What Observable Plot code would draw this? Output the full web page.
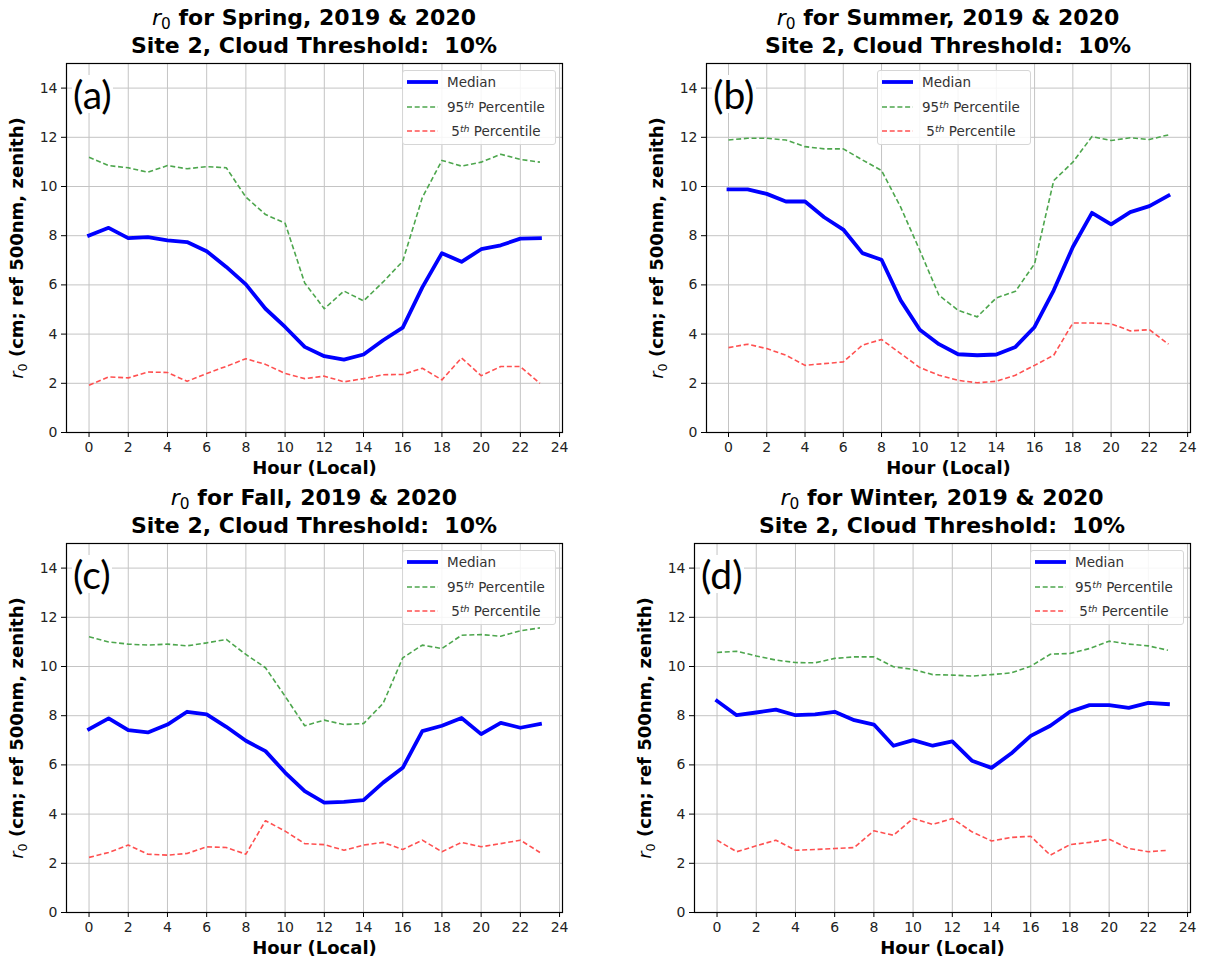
<!DOCTYPE html>
<html>
<head>
<meta charset="utf-8">
<script src="https://cdn.jsdelivr.net/npm/d3@7"></script>
<script src="https://cdn.jsdelivr.net/npm/@observablehq/plot@0.6"></script>
<style>
  html, body { margin: 0; padding: 0; background: #fff; }
  #root { position: relative; width: 1219px; height: 962px; background: #fff; overflow: hidden; font-family: "DejaVu Sans", sans-serif; }
  .panel { position: absolute; }
  .title { position: absolute; width: 600px; text-align: center; font: bold 22px "DejaVu Sans"; line-height: 28px; color: #000; white-space: pre; z-index: 3; }
  .title .m { font-weight: normal; }
  .title sub { font-size: 70%; vertical-align: -0.25em; line-height: 0; }
  .letter { position: absolute; font-family: Lato, "Open Sans", sans-serif; font-size: 39px; line-height: 38px; background: #fff; color: #000; z-index: 3; padding: 0 1px; }
  .legend { position: absolute; width: 152px; height: 73px; background: rgba(255,255,255,0.85); border: 1px solid #d6d6d6; border-radius: 3px; z-index: 4; font: 13.5px "DejaVu Sans"; color: #333; }
  .legend .row { position: absolute; left: 0; height: 18px; width: 152px; }
  .legend svg { position: absolute; left: 3px; top: 0; }
  .legend .lab { position: absolute; left: 44px; top: 0; line-height: 18px; white-space: pre; }
  .legend sup { font-style: italic; font-size: 70%; line-height: 0; vertical-align: 0.45em; }
</style>
</head>
<body>
<div id="root"></div>
<script>
// ---------- data ----------
const hours = [0,1,2,3,4,5,6,7,8,9,10,11,12,13,14,15,16,17,18,19,20,21,22,23];
const xTicks = [0,2,4,6,8,10,12,14,16,18,20,22,24];
const yTicks = [0,2,4,6,8,10,12,14];

const seasons = ["Spring", "Summer", "Fall", "Winter"];
const panelLetters = ["(a)", "(b)", "(c)", "(d)"];
const subtitle = "Site 2, Cloud Threshold:  10%";
const seriesNames = ["Median", "95th Percentile", "5th Percentile"];

const springMedian = [8.01, 8.32, 7.90, 7.94, 7.81, 7.74, 7.37, 6.73, 6.02, 5.03, 4.29, 3.48, 3.10, 2.96, 3.17, 3.75, 4.26, 5.90, 7.29, 6.94, 7.45, 7.61, 7.88, 7.90];
const spring95 = [11.19, 10.85, 10.76, 10.58, 10.85, 10.72, 10.81, 10.76, 9.57, 8.86, 8.51, 6.08, 5.03, 5.75, 5.35, 6.12, 6.96, 9.55, 11.06, 10.83, 10.99, 11.31, 11.10, 10.99];
const spring5 = [1.92, 2.26, 2.22, 2.46, 2.44, 2.08, 2.40, 2.69, 3.00, 2.77, 2.40, 2.19, 2.29, 2.06, 2.19, 2.35, 2.36, 2.61, 2.14, 3.03, 2.31, 2.68, 2.68, 2.00];

const summerMedian = [9.88, 9.88, 9.70, 9.39, 9.39, 8.75, 8.25, 7.29, 7.02, 5.37, 4.18, 3.59, 3.18, 3.14, 3.17, 3.48, 4.29, 5.78, 7.54, 8.93, 8.46, 8.96, 9.20, 9.63];
const summer95 = [11.89, 11.96, 11.96, 11.89, 11.62, 11.53, 11.53, 11.08, 10.65, 9.16, 7.40, 5.58, 4.97, 4.70, 5.47, 5.74, 6.86, 10.24, 10.99, 12.03, 11.87, 11.98, 11.91, 12.10];
const summer5 = [3.45, 3.59, 3.41, 3.14, 2.73, 2.80, 2.87, 3.55, 3.78, 3.21, 2.64, 2.33, 2.12, 2.02, 2.08, 2.33, 2.73, 3.14, 4.45, 4.45, 4.42, 4.13, 4.18, 3.59];

const fallMedian = [7.45, 7.89, 7.41, 7.32, 7.64, 8.16, 8.05, 7.55, 6.98, 6.56, 5.69, 4.93, 4.47, 4.50, 4.57, 5.28, 5.88, 7.37, 7.59, 7.91, 7.25, 7.71, 7.51, 7.66];
const fall95 = [11.21, 11.00, 10.91, 10.87, 10.91, 10.84, 10.96, 11.10, 10.49, 9.95, 8.79, 7.59, 7.82, 7.64, 7.68, 8.50, 10.35, 10.87, 10.73, 11.27, 11.30, 11.23, 11.45, 11.57];
const fall5 = [2.24, 2.44, 2.74, 2.37, 2.33, 2.40, 2.67, 2.64, 2.37, 3.73, 3.31, 2.80, 2.76, 2.53, 2.74, 2.85, 2.56, 2.94, 2.47, 2.85, 2.67, 2.80, 2.94, 2.44];

const winterMedian = [8.60, 8.02, 8.13, 8.25, 8.02, 8.05, 8.16, 7.82, 7.64, 6.78, 7.01, 6.78, 6.96, 6.17, 5.88, 6.46, 7.18, 7.59, 8.16, 8.43, 8.43, 8.32, 8.52, 8.47];
const winter95 = [10.57, 10.62, 10.43, 10.26, 10.16, 10.15, 10.33, 10.39, 10.39, 9.99, 9.88, 9.67, 9.65, 9.61, 9.67, 9.74, 10.01, 10.50, 10.53, 10.73, 11.03, 10.91, 10.84, 10.66];
const winter5 = [2.94, 2.47, 2.71, 2.94, 2.53, 2.56, 2.60, 2.64, 3.32, 3.14, 3.82, 3.58, 3.82, 3.28, 2.91, 3.05, 3.10, 2.33, 2.76, 2.85, 2.98, 2.60, 2.47, 2.53];

const medians = [springMedian, summerMedian, fallMedian, winterMedian];
const p95s = [spring95, summer95, fall95, winter95];
const p5s = [spring5, summer5, fall5, winter5];

// ---------- styling / layout ----------
const colMedian = "#0000ff";
const col95 = "#4da64d";
const col5 = "#ff5050";
const dash = "5,2.7";

const layout = [
  {left: 0,   top: 0,   width: 600, ml: 66, mr: 38, legendLeft: 402, legendTop: 70},
  {left: 620, top: 0,   width: 599, ml: 86, mr: 29, legendLeft: 877, legendTop: 70},
  {left: 0,   top: 480, width: 600, ml: 66, mr: 38, legendLeft: 402, legendTop: 550},
  {left: 620, top: 480, width: 599, ml: 74, mr: 29, legendLeft: 1030, legendTop: 550}
];
const H = 480, MT = 63, MB = 48;

const root = document.getElementById("root");
const NS = "http://www.w3.org/2000/svg";

function tspan(txt, attrs) {
  const t = document.createElementNS(NS, "tspan");
  for (const k in attrs) t.setAttribute(k, attrs[k]);
  t.textContent = txt;
  return t;
}

seasons.forEach((season, i) => {
  const L = layout[i];
  const data = hours.map((h, j) => ({hour: h, median: medians[i][j], p95: p95s[i][j], p5: p5s[i][j]}));

  const chart = Plot.plot({
    width: L.width, height: H,
    marginLeft: L.ml, marginRight: L.mr, marginTop: MT, marginBottom: MB,
    style: {fontFamily: "DejaVu Sans", fontSize: "14px", color: "#222", background: "transparent", overflow: "visible"},
    x: {domain: [-1.15, 24.15]},
    y: {domain: [0, 15]},
    marks: [
      Plot.gridX(xTicks, {stroke: "#c4c4c4", strokeOpacity: 1, strokeWidth: 1}),
      Plot.gridY(yTicks, {stroke: "#c4c4c4", strokeOpacity: 1, strokeWidth: 1}),
      Plot.line(data, {x: "hour", y: "median", stroke: colMedian, strokeWidth: 3.8, strokeLinejoin: "round", strokeLinecap: "square"}),
      Plot.line(data, {x: "hour", y: "p95", stroke: col95, strokeWidth: 1.6, strokeDasharray: dash, strokeLinecap: "butt"}),
      Plot.line(data, {x: "hour", y: "p5", stroke: col5, strokeWidth: 1.6, strokeDasharray: dash, strokeLinecap: "butt"}),
      Plot.frame({stroke: "#000", strokeWidth: 1.2}),
      Plot.axisX(xTicks, {tickSize: 5, tickPadding: 5, stroke: "#000", label: "Hour (Local)", labelAnchor: "center", labelOffset: 41, labelArrow: "none"}),
      Plot.axisY(yTicks, {tickSize: 5, tickPadding: 4, stroke: "#000", label: "r0 (cm; ref 500nm, zenith)", labelAnchor: "center", labelOffset: 56, labelArrow: "none"})
    ]
  });
  chart.classList.add("panel");
  chart.style.left = L.left + "px";
  chart.style.top = L.top + "px";
  root.appendChild(chart);

  // axis label styling
  const xl = chart.querySelector('[aria-label="x-axis label"] text');
  if (xl) { xl.setAttribute("font-weight", "bold"); xl.setAttribute("font-size", "18"); xl.setAttribute("fill", "#000"); xl.textContent = "Hour (Local)"; }
  const yl = chart.querySelector('[aria-label="y-axis label"] text');
  if (yl) {
    yl.textContent = "";
    yl.setAttribute("font-size", "18"); yl.setAttribute("fill", "#000");
    yl.appendChild(tspan("r", {"font-style": "italic", "font-weight": "normal"}));
    yl.appendChild(tspan("0", {"font-size": "12.6", "font-weight": "normal", "dy": "4"}));
    yl.appendChild(tspan(" (cm; ref 500nm, zenith)", {"font-weight": "bold", "dy": "-4"}));
  }

  // title
  const frameLeft = L.left + L.ml;
  const frameRight = L.left + L.width - L.mr;
  const cx = (frameLeft + frameRight) / 2;
  const title = document.createElement("div");
  title.className = "title";
  title.style.left = (cx - 300) + "px";
  title.style.top = (L.top + 4) + "px";
  title.innerHTML = '<span class="m"><i>r</i><sub>0</sub></span> for ' + season + ', 2019 &amp; 2020<br>' + subtitle;
  root.appendChild(title);

  // panel letter
  const letter = document.createElement("div");
  letter.className = "letter";
  letter.style.left = (frameLeft + 6) + "px";
  letter.style.top = (L.top + MT + 12) + "px";
  letter.textContent = panelLetters[i];
  root.appendChild(letter);

  // legend
  const lg = document.createElement("div");
  lg.className = "legend";
  lg.style.left = L.legendLeft + "px";
  lg.style.top = L.legendTop + "px";
  const rows = [
    {stroke: colMedian, w: 3.8, d: null, html: seriesNames[0]},
    {stroke: col95, w: 1.6, d: dash, html: '95<sup>th</sup> Percentile'},
    {stroke: col5, w: 1.6, d: dash, html: ' 5<sup>th</sup> Percentile'}
  ];
  rows.forEach((r, k) => {
    const row = document.createElement("div");
    row.className = "row";
    row.style.top = (2 + k * 24.5) + "px";
    row.innerHTML = '<svg width="34" height="18"><line x1="1" x2="32" y1="9" y2="9" stroke="' + r.stroke + '" stroke-width="' + r.w + '"' + (r.d ? ' stroke-dasharray="' + r.d + '"' : '') + '/></svg><span class="lab">' + r.html + '</span>';
    lg.appendChild(row);
  });
  root.appendChild(lg);
});
</script>
</body>
</html>
